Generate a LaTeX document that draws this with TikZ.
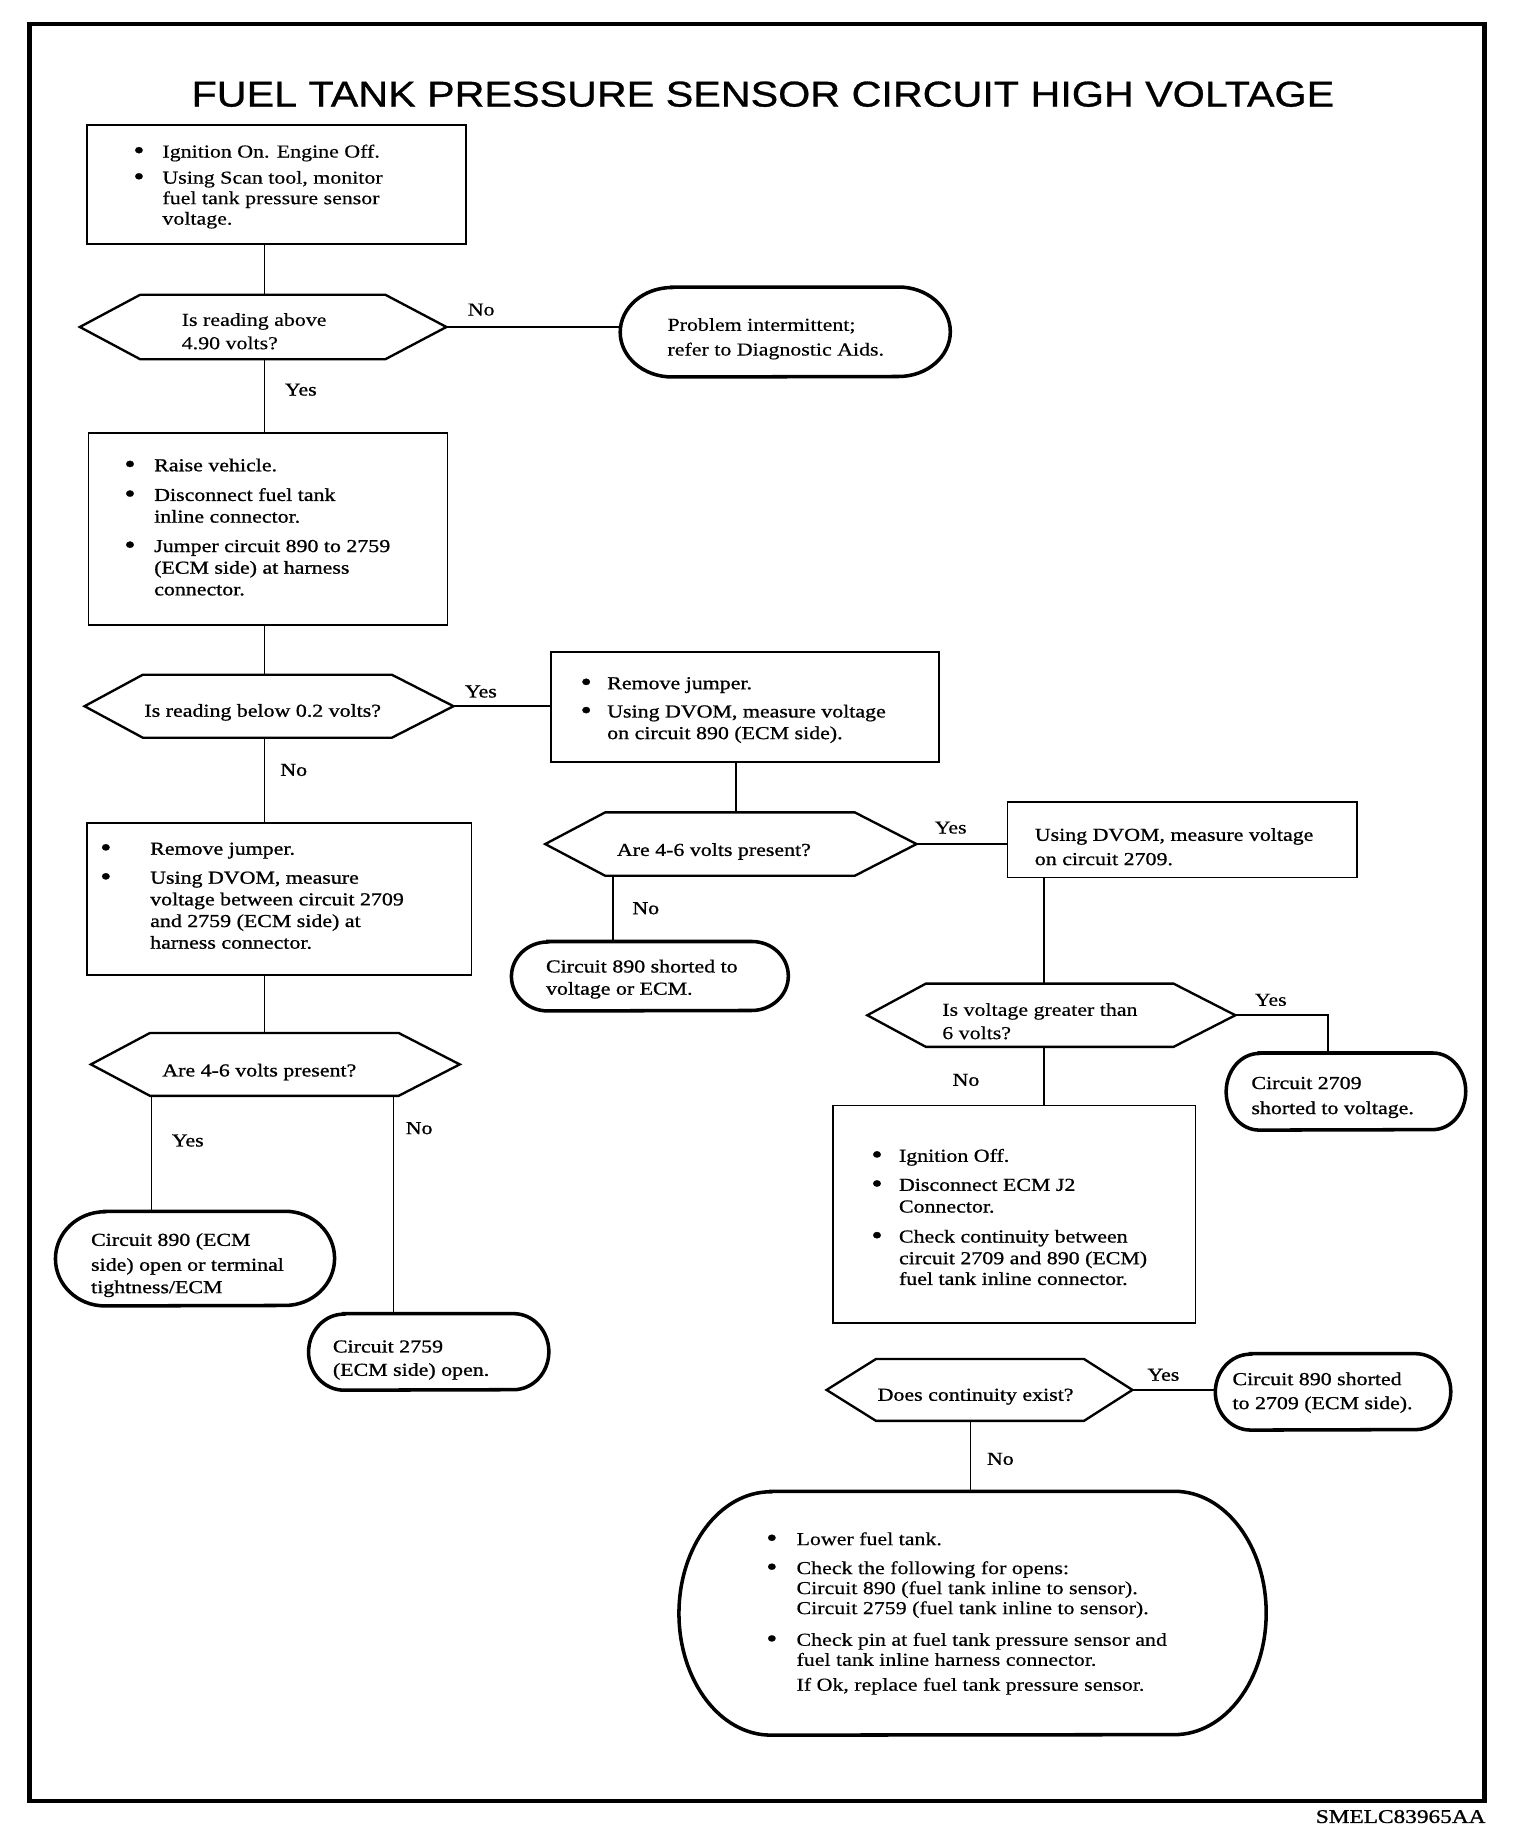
\documentclass[tikz,border=0pt]{standalone}
\usepackage{fontspec}
\setmainfont{Liberation Serif}[FakeStretch=1.2,FakeBold=0.4]
\newfontfamily\titlefont{Liberation Sans}[FakeStretch=1.15,FakeBold=0.8]
\newfontfamily\bdf{Liberation Serif}[FakeStretch=1.2,FakeBold=1.0]
\usetikzlibrary{calc}
% place text: node cx, node cy, text left x, first baseline y, content
\newcommand{\tx}[5]{\makebox[0pt][l]{\hspace*{\dimexpr #3pt-#1pt\relax}\raisebox{\dimexpr #2pt-#4pt\relax}[0pt][0pt]{#5}}}
\newcommand{\bl}[1]{\makebox[#1pt][l]{\raisebox{-1.2pt}{\scalebox{1.45}{\textbullet}}}}
\newcommand{\hexa}[3]{\draw[hexline] (#1.west) -- ([xshift=#2pt]#1.north west) -- ([xshift=-#3pt]#1.north east) -- (#1.east) -- ([xshift=-#3pt]#1.south east) -- ([xshift=#2pt]#1.south west) -- cycle;}
\newcommand{\term}[3]{\draw[termline] ([xshift=#2pt]#1.north west) -- ([xshift=-#2pt]#1.north east) arc[start angle=90, end angle=-90, x radius=#2pt, y radius=#3pt] -- ([xshift=#2pt]#1.south west) arc[start angle=270, end angle=90, x radius=#2pt, y radius=#3pt] -- cycle;}
\tikzset{
  boxn/.style={draw, line width=1.4pt, rectangle, inner sep=0pt},
  hidn/.style={rectangle, inner sep=0pt},
  hexline/.style={line width=2pt, line join=miter},
  termline/.style={line width=3pt},
  conn/.style={line width=1.4pt},
  lab/.style={inner sep=0pt},
}
\begin{document}
\begin{tikzpicture}[x=1pt,y=-1pt,font=\fontsize{15.5}{18.4}\selectfont]
\useasboundingbox (0,0) rectangle (1291,1568);
\fill[white] (0,0) rectangle (1291,1568);
\draw[line width=3.6pt] (25,20.5) rectangle (1261,1529.5);

\node[inner sep=0pt] (title) at (648,80) {\titlefont\fontsize{30.5}{36}\selectfont FUEL TANK PRESSURE SENSOR CIRCUIT HIGH VOLTAGE};
\node[anchor=east,inner sep=0pt] (code) at (1262,1543) {\bdf\fontsize{16.5}{20}\selectfont SMELC83965AA};

% ---------- boxes
\node[boxn, minimum width=322pt, minimum height=101.3pt] (A) at (235,156.65) {\tx{235}{156.65}{113.3}{133.8}{\begin{tabular}[t]{@{}l@{}l@{}}\bl{24.7}&Ignition On. Engine Off.\\[3.8pt]
\bl{24.7}&Using Scan tool, monitor\\[-1pt] &fuel tank pressure sensor\\[-1pt] &voltage.\end{tabular}}};

\node[boxn, minimum width=304.7pt, minimum height=163.2pt] (B) at (227.65,449.4) {\tx{227.65}{449.4}{105.7}{400.3}{\bdf\begin{tabular}[t]{@{}l@{}l@{}}\bl{25.3}&Raise vehicle.\\[6.8pt]
\bl{25.3}&Disconnect fuel tank\\ &inline connector.\\[6.6pt]
\bl{25.3}&Jumper circuit 890 to 2759\\ &(ECM side) at harness\\ &connector.\end{tabular}}};

\node[boxn, minimum width=329.8pt, minimum height=93pt] (C) at (632.7,600.5) {\tx{632.7}{600.5}{493.2}{585.4}{\bdf\begin{tabular}[t]{@{}l@{}l@{}}\bl{22.6}&Remove jumper.\\[5.6pt]
\bl{22.6}&Using DVOM, measure voltage\\ &on circuit 890 (ECM side).\end{tabular}}};

\node[boxn, minimum width=326.6pt, minimum height=128.7pt] (E) at (237.3,763.65) {\tx{237.3}{763.65}{85.2}{726}{\bdf\begin{tabular}[t]{@{}l@{}l@{}}\bl{42.4}&Remove jumper.\\[6.2pt]
\bl{42.4}&Using DVOM, measure\\ &voltage between circuit 2709\\ &and 2759 (ECM side) at\\ &harness connector.\end{tabular}}};

\node[boxn, minimum width=296.7pt, minimum height=64.4pt] (F) at (1004.05,713.2) {\tx{1004.05}{713.2}{879}{714.2}{\bdf\begin{tabular}[t]{@{}l@{}}Using DVOM, measure voltage\\[2.2pt] on circuit 2709.\end{tabular}}};

\node[boxn, minimum width=308.2pt, minimum height=185pt] (G) at (861.4,1031.5) {\tx{861.4}{1031.5}{740.2}{986.8}{\bdf\begin{tabular}[t]{@{}l@{}l@{}}\bl{23.4}&Ignition Off.\\[6.3pt]
\bl{23.4}&Disconnect ECM J2\\ &Connector.\\[7.1pt]
\bl{23.4}&Check continuity between\\ &circuit 2709 and 890 (ECM)\\[-0.8pt] &fuel tank inline connector.\end{tabular}}};

% ---------- decisions
\node[hidn, minimum width=311pt, minimum height=54.5pt] (D1) at (223.5,277.75) {\tx{223.5}{277.75}{154.4}{276.8}{\begin{tabular}[t]{@{}l@{}}Is reading above\\[1.4pt] 4.90 volts?\end{tabular}}};
\hexa{D1}{51.4}{52}

\node[hidn, minimum width=313pt, minimum height=53.1pt] (D2) at (228.5,599.85) {\tx{228.5}{599.85}{122.7}{608.8}{\bdf Is reading below 0.2 volts?}};
\hexa{D2}{49.5}{52.4}

\node[hidn, minimum width=315pt, minimum height=53.5pt] (D3) at (620.8,716.95) {\tx{620.8}{716.95}{524}{727}{\bdf Are 4-6 volts present?}};
\hexa{D3}{51}{52.5}

\node[hidn, minimum width=312.9pt, minimum height=53pt] (D4) at (233.85,904.1) {\tx{233.85}{904.1}{137.9}{914.3}{\bdf Are 4-6 volts present?}};
\hexa{D4}{50.2}{51.9}

\node[hidn, minimum width=312.2pt, minimum height=53.3pt] (D5) at (893,862.35) {\tx{893}{862.35}{800.4}{862.8}{\begin{tabular}[t]{@{}l@{}}Is voltage greater than\\[1.4pt] 6 volts?\end{tabular}}};
\hexa{D5}{49.7}{52.5}

\node[hidn, minimum width=259.4pt, minimum height=52.2pt] (D6) at (832,1180.6) {\tx{832}{1180.6}{745.5}{1189.8}{\bdf Does continuity exist?}};
\hexa{D6}{42}{41.2}

% ---------- terminals
\node[hidn, minimum width=280pt, minimum height=76pt] (T1) at (667,282) {\tx{667}{282}{567}{281}{\begin{tabular}[t]{@{}l@{}}Problem intermittent;\\[2.6pt] refer to Diagnostic Aids.\end{tabular}}};
\term{T1}{44}{38}

\node[hidn, minimum width=234.8pt, minimum height=58.6pt] (T2) at (552,829.2) {\tx{552}{829.2}{463.8}{826}{\bdf\begin{tabular}[t]{@{}l@{}}Circuit 890 shorted to\\[0.5pt] voltage or ECM.\end{tabular}}};
\term{T2}{31}{29.3}

\node[hidn, minimum width=236.7pt, minimum height=80pt] (T3) at (165.65,1069.05) {\tx{165.65}{1069.05}{77.4}{1058.2}{\bdf\begin{tabular}[t]{@{}l@{}}Circuit 890 (ECM\\[2.8pt] side) open or terminal\\[0.6pt] tightness/ECM\end{tabular}}};
\term{T3}{42}{40}

\node[hidn, minimum width=203.1pt, minimum height=65.1pt] (T4) at (1143.25,927.15) {\tx{1143.25}{927.15}{1063}{925}{\bdf\begin{tabular}[t]{@{}l@{}}Circuit 2709\\[2.9pt] shorted to voltage.\end{tabular}}};
\term{T4}{28}{32.55}

\node[hidn, minimum width=203.7pt, minimum height=64.6pt] (T5) at (364.15,1148.3) {\tx{364.15}{1148.3}{282.8}{1148.8}{\bdf\begin{tabular}[t]{@{}l@{}}Circuit 2759\\[1.4pt] (ECM side) open.\end{tabular}}};
\term{T5}{30}{32.3}

\node[hidn, minimum width=199.6pt, minimum height=64.5pt] (T6) at (1132.3,1182.25) {\tx{1132.3}{1182.25}{1046.9}{1176.5}{\bdf\begin{tabular}[t]{@{}l@{}}Circuit 890 shorted\\[2pt] to 2709 (ECM side).\end{tabular}}};
\term{T6}{30}{32.25}

\node[hidn, minimum width=498.4pt, minimum height=206.7pt] (T7) at (826.1,1370.25) {\tx{826.1}{1370.25}{650.9}{1312.4}{\begin{tabular}[t]{@{}l@{}l@{}}\bl{25.7}&Lower fuel tank.\\[6.2pt]
\bl{25.7}&Check the following for opens:\\[-1.4pt] &Circuit 890 (fuel tank inline to sensor).\\[-1.4pt] &Circuit 2759 (fuel tank inline to sensor).\\[8.5pt]
\bl{25.7}&Check pin at fuel tank pressure sensor and\\[-1.4pt] &fuel tank inline harness connector.\\[2.8pt] &If Ok, replace fuel tank pressure sensor.\end{tabular}}};
\term{T7}{78}{103.35}

% ---------- spine coordinates
\coordinate (s1) at (224.8,0);
\coordinate (s2) at (625.3,0);
\coordinate (s3) at (520.5,0);
\coordinate (s4) at (886.8,0);
\coordinate (s5) at (824.2,0);
\coordinate (s6) at (128.8,0);
\coordinate (s7) at (334.3,0);
\coordinate (s8) at (1128,0);

% ---------- connectors
\draw[conn] (A.south -| s1) -- (D1.north -| s1);
\draw[conn] (D1.south -| s1) -- (B.north -| s1);
\draw[conn] (B.south -| s1) -- (D2.north -| s1);
\draw[conn] (D2.south -| s1) -- (E.north -| s1);
\draw[conn] (E.south -| s1) -- (D4.north -| s1);
\draw[conn] (D1.east) -- (D1.east -| T1.west);
\draw[conn] (D2.east) -- (D2.east -| C.west);
\draw[conn] (C.south -| s2) -- (D3.north -| s2);
\draw[conn] (D3.south -| s3) -- (T2.north -| s3);
\draw[conn] (D3.east) -- (D3.east -| F.west);
\draw[conn] (F.south -| s4) -- (D5.north -| s4);
\draw[conn] (D5.south -| s4) -- (G.north -| s4);
\draw[conn] (D5.east) -| (T4.north -| s8);
\draw[conn] (D4.south -| s6) -- (T3.north -| s6);
\draw[conn] (D4.south -| s7) -- (T5.north -| s7);
\draw[conn] (D6.east) -- (D6.east -| T6.west);
\draw[conn] (D6.south -| s5) -- (T7.north -| s5);

% ---------- labels
\node[lab] (l1) at (408.7,263) {No};
\node[lab] (l2) at (255.5,331) {\bdf Yes};
\node[lab] (l3) at (408.5,587.4) {\bdf Yes};
\node[lab] (l4) at (249.5,654) {\bdf No};
\node[lab] (l5) at (548.5,771.5) {\bdf No};
\node[lab] (l6) at (807.5,703) {Yes};
\node[lab] (l7) at (159.5,968.8) {\bdf Yes};
\node[lab] (l8) at (356,958.3) {\bdf No};
\node[lab] (l9) at (1079.4,849.3) {Yes};
\node[lab] (l10) at (820.5,917.3) {\bdf No};
\node[lab] (l11) at (988.2,1167.8) {\bdf Yes};
\node[lab] (l12) at (849.7,1239.2) {\bdf No};
\end{tikzpicture}
\end{document}
